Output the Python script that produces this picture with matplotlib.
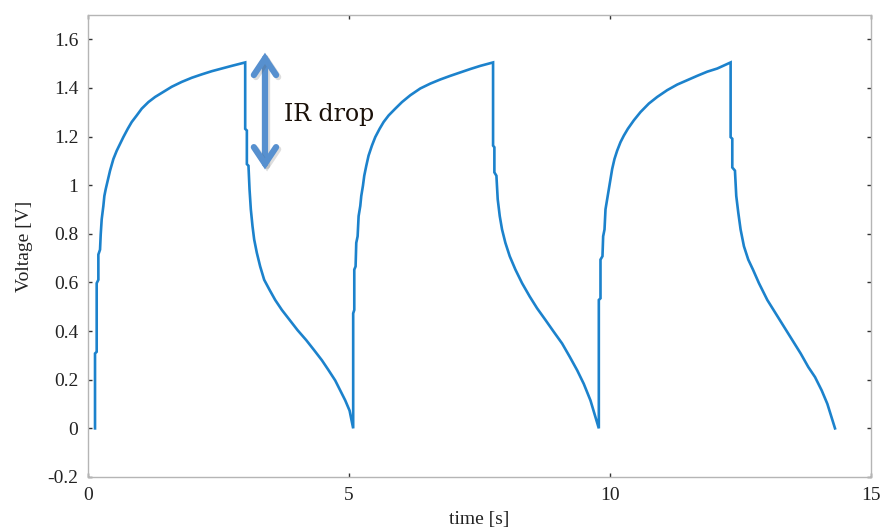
import matplotlib
matplotlib.use("Agg")
import matplotlib.pyplot as plt
import matplotlib.patheffects as pe

# Cycle 1: charge then discharge
c1_t = [0.134, 0.134, 0.166, 0.166, 0.198, 0.198, 0.230, 0.243, 0.262, 0.294, 0.313, 0.339, 0.377, 0.422,
        0.486, 0.550, 0.614, 0.677, 0.761, 0.837, 0.933, 1.029, 1.157, 1.285, 1.445, 1.604, 1.796, 1.988,
        2.180, 2.371, 2.563, 2.755, 3.011,
        3.011, 3.043, 3.043, 3.074, 3.094, 3.119, 3.151, 3.183, 3.234, 3.298, 3.375, 3.477, 3.586, 3.714,
        3.861, 4.014, 4.180, 4.334, 4.481, 4.609, 4.736, 4.832, 4.928, 5.011, 5.080]
c1_v = [0.000, 0.308, 0.315, 0.597, 0.611, 0.715, 0.735, 0.797, 0.860, 0.915, 0.956, 0.984, 1.018, 1.060,
        1.108, 1.142, 1.170, 1.198, 1.232, 1.260, 1.287, 1.315, 1.342, 1.363, 1.384, 1.405, 1.425, 1.442,
        1.456, 1.469, 1.480, 1.491, 1.505,
        1.232, 1.225, 1.087, 1.080, 0.984, 0.901, 0.832, 0.777, 0.722, 0.666, 0.611, 0.570, 0.528, 0.487,
        0.446, 0.404, 0.363, 0.321, 0.280, 0.239, 0.197, 0.156, 0.115, 0.073, 0.000]

# Cycle 2
c2_t = [5.080, 5.080, 5.101, 5.101, 5.126, 5.139, 5.165, 5.184, 5.216, 5.235, 5.267, 5.292, 5.331, 5.375,
        5.439, 5.503, 5.586, 5.663, 5.759, 5.887, 6.015, 6.174, 6.366, 6.558, 6.750, 6.942, 7.133, 7.325,
        7.517, 7.760,
        7.760, 7.785, 7.785, 7.824, 7.849, 7.888, 7.932, 7.996, 8.079, 8.188, 8.316, 8.463, 8.603, 8.763,
        8.923, 9.083, 9.230, 9.371, 9.498, 9.626, 9.786]
c2_v = [0.000, 0.473, 0.487, 0.653, 0.666, 0.763, 0.790, 0.873, 0.915, 0.956, 0.998, 1.039, 1.080, 1.122,
        1.163, 1.198, 1.232, 1.260, 1.287, 1.315, 1.342, 1.370, 1.398, 1.418, 1.435, 1.450, 1.464, 1.478,
        1.491, 1.505,
        1.163, 1.156, 1.053, 1.039, 0.942, 0.873, 0.818, 0.763, 0.708, 0.653, 0.597, 0.542, 0.494, 0.446,
        0.397, 0.349, 0.294, 0.239, 0.183, 0.115, 0.000]

# Cycle 3
c3_t = [9.786, 9.786, 9.818, 9.818, 9.856, 9.869, 9.895, 9.914, 9.946, 9.978, 10.010, 10.042, 10.086,
        10.137, 10.201, 10.265, 10.342, 10.457, 10.585, 10.745, 10.904, 11.096, 11.288, 11.480, 11.672,
        11.863, 12.055, 12.311,
        12.311, 12.343, 12.343, 12.394, 12.419, 12.458, 12.502, 12.566, 12.649, 12.739, 12.854, 13.014,
        13.174, 13.333, 13.493, 13.653, 13.800, 13.928, 14.056, 14.164, 14.311]
c3_v = [0.000, 0.528, 0.535, 0.694, 0.708, 0.790, 0.818, 0.901, 0.942, 0.984, 1.025, 1.067, 1.108,
        1.142, 1.177, 1.204, 1.232, 1.267, 1.301, 1.336, 1.363, 1.391, 1.414, 1.432, 1.450,
        1.467, 1.480, 1.505,
        1.198, 1.191, 1.073, 1.060, 0.956, 0.887, 0.818, 0.749, 0.694, 0.653, 0.597, 0.528,
        0.473, 0.418, 0.363, 0.308, 0.252, 0.211, 0.156, 0.101, 0.000]

time = c1_t + c2_t + c3_t
voltage = c1_v + c2_v + c3_v

x_ticks = [0, 5, 10, 15]
y_ticks = [-0.2, 0, 0.2, 0.4, 0.6, 0.8, 1, 1.2, 1.4, 1.6]
y_tick_labels = ["-0.2", "0", "0.2", "0.4", "0.6", "0.8", "1", "1.2", "1.4", "1.6"]

arrow_x = 3.39
arrow_top = 1.545
arrow_bottom = 1.065
label_text = "IR drop"

plt.rcParams['font.family'] = ['Liberation Serif', 'DejaVu Serif']

fig = plt.figure(figsize=(8.82, 5.31), dpi=100)
ax = fig.add_axes([0.0998, 0.1017, 0.8877, 0.870])

ax.plot(time, voltage, color='#1c82cc', lw=1.9, solid_joinstyle='miter')

ax.set_xlim(0, 15)
ax.set_ylim(-0.2, 1.7)
ax.set_xticks(x_ticks)
ax.set_xticklabels([str(t) for t in x_ticks])
ax.set_yticks(y_ticks)
ax.set_yticklabels(y_tick_labels)

for s in ax.spines.values():
    s.set_color('#b5b5b5')
    s.set_linewidth(1.0)

ax.tick_params(direction='in', length=3, width=1.0, color='#333333',
               top=True, right=True, labelsize=14, pad=7, labelcolor='#222222')

ax.set_xlabel("time [s]", fontsize=14, color='#222222', labelpad=5)
ax.set_ylabel("Voltage [V]", fontsize=14, color='#222222', labelpad=10)

arr = ax.annotate("", xy=(arrow_x, arrow_top), xytext=(arrow_x, arrow_bottom),
                  arrowprops=dict(arrowstyle='<->,head_length=1.2,head_width=0.8',
                                  color='#5790cf', lw=4.5, shrinkA=0, shrinkB=0,
                                  capstyle='round', joinstyle='miter'))
arr.arrow_patch.set_path_effects([pe.SimpleLineShadow(offset=(1.5, -1.5), alpha=0.2, shadow_color='#555555'),
                                  pe.Normal()])

ax.text(3.76, 1.29, label_text, fontsize=17, color='#1a1008', va='center', ha='left',
        family=['DejaVu Serif'], fontweight='normal')

fig.savefig("out.png", dpi=100)
